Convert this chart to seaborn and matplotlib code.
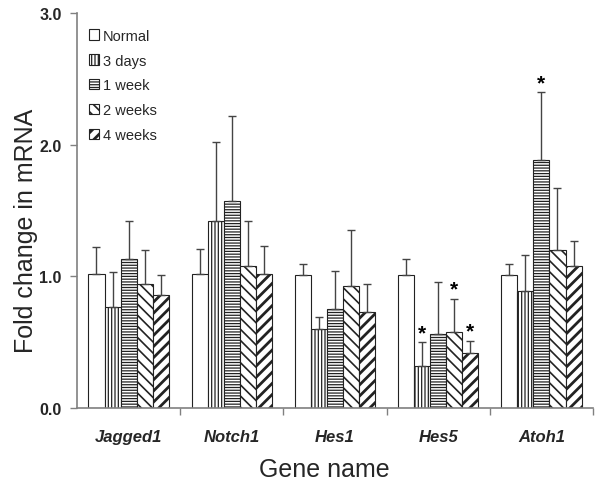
import matplotlib
matplotlib.use("Agg")
import matplotlib.pyplot as plt
import seaborn as sns
import pandas as pd
import numpy as np

genes = ["Jagged1", "Notch1", "Hes1", "Hes5", "Atoh1"]
groups = ["Normal", "3 days", "1 week", "2 weeks", "4 weeks"]

normal = [1.02, 1.02, 1.01, 1.01, 1.01]
days3 = [0.77, 1.42, 0.60, 0.32, 0.89]
week1 = [1.13, 1.57, 0.75, 0.56, 1.88]
weeks2 = [0.94, 1.08, 0.93, 0.58, 1.20]
weeks4 = [0.86, 1.02, 0.73, 0.42, 1.08]

err_normal = [0.20, 0.19, 0.08, 0.12, 0.08]
err_days3 = [0.26, 0.60, 0.09, 0.18, 0.27]
err_week1 = [0.29, 0.65, 0.29, 0.40, 0.52]
err_weeks2 = [0.26, 0.34, 0.42, 0.25, 0.47]
err_weeks4 = [0.15, 0.21, 0.21, 0.09, 0.19]

significant = [("Hes5", "3 days"), ("Hes5", "2 weeks"), ("Hes5", "4 weeks"), ("Atoh1", "1 week")]

values = [normal, days3, week1, weeks2, weeks4]
errors = [err_normal, err_days3, err_week1, err_weeks2, err_weeks4]

rows = []
for g, vals, errs in zip(groups, values, errors):
    for gene, v, e in zip(genes, vals, errs):
        rows.append({"Gene": gene, "Group": g, "Value": v, "Err": e})
df = pd.DataFrame(rows)

sns.set_style("white")
plt.rcParams["font.family"] = ["Liberation Sans", "DejaVu Sans"]
plt.rcParams["hatch.linewidth"] = 0.8

fig = plt.figure(figsize=(6.02, 4.81), dpi=100)
ax = fig.add_axes([0.128, 0.1497, 0.857, 0.8213])

sns.barplot(data=df, x="Gene", y="Value", hue="Group", order=genes,
            hue_order=groups, errorbar=None, width=0.78, gap=0,
            palette=["white"] * 5, edgecolor="#333333", linewidth=0.8,
            ax=ax, legend=True)

hatches = ["", "|||||", "------", "\\\\\\", "///"]
hlw = [0.8, 0.9, 0.9, 1.2, 2.0]
edgec = "#222222"
bar_containers = list(ax.containers)
for ci, cont in enumerate(bar_containers):
    g = groups[ci]
    for bi, patch in enumerate(cont.patches):
        patch.set_hatch(hatches[ci])
        patch.set_edgecolor(edgec)
        if hasattr(patch, "set_hatch_linewidth"):
            patch.set_hatch_linewidth(hlw[ci])
        gene = genes[bi]
        cx = patch.get_x() + patch.get_width() / 2
        top = patch.get_height()
        e = errors[ci][bi]
        ax.errorbar(cx, top, yerr=[[0], [e]], fmt="none", ecolor="#444444",
                    elinewidth=1.0, capsize=3, capthick=1.0, zorder=1)
        if (gene, g) in significant:
            ax.text(cx, top + e + 0.0, "*", ha="center", va="bottom",
                    fontsize=15, fontweight="bold", color="black")

ax.set_ylim(0, 3.0)
ax.set_xlim(-0.5, 4.5)
ax.set_yticks([0, 1, 2, 3])
ax.set_yticklabels(["0.0", "1.0", "2.0", "3.0"], fontsize=11.5, fontweight="bold")
ax.set_xticks(range(len(genes)))
ax.set_xticklabels(genes, fontsize=12, fontweight="bold", fontstyle="italic")
ax.set_xticks([0.5, 1.5, 2.5, 3.5, 4.5], minor=True)
ax.tick_params(axis="x", which="major", length=0, pad=15)
ax.tick_params(axis="x", which="minor", length=5, width=1, color="#808080", direction="out", bottom=True)
ax.tick_params(axis="y", length=5, width=1, color="#808080", direction="out", left=True, pad=6)

for s in ["top", "right"]:
    ax.spines[s].set_visible(False)
for s in ["left", "bottom"]:
    ax.spines[s].set_color("#808080")
    ax.spines[s].set_linewidth(1.2)

ax.set_xlabel("Gene name", fontsize=18)
ax.set_ylabel("Fold change in mRNA", fontsize=18)
ax.xaxis.set_label_coords(0.479, -0.123)
ax.yaxis.set_label_coords(-0.076, 0.45)

leg = ax.legend(loc="upper left", bbox_to_anchor=(0.0, 0.99), frameon=False,
                fontsize=10.5, handlelength=0.7, handleheight=0.7,
                handletextpad=0.25, labelspacing=0.75, borderaxespad=0.4)
for h, ht, lw in zip(leg.legend_handles, hatches, hlw):
    h.set_hatch(ht)
    h.set_edgecolor(edgec)
    if hasattr(h, "set_hatch_linewidth"):
        h.set_hatch_linewidth(lw)

fig.savefig("out.png", dpi=100)
